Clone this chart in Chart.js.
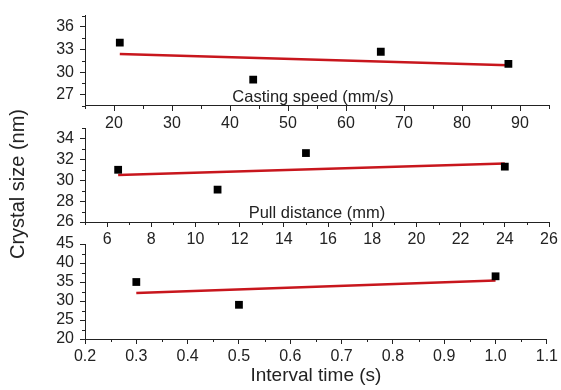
<!DOCTYPE html>
<html><head><meta charset="utf-8">
<script src="https://cdn.jsdelivr.net/npm/chart.js@4.4.0/dist/chart.umd.min.js"></script>
<style>
html,body{margin:0;padding:0;background:#fff;}
#wrap{position:relative;width:561px;height:390px;overflow:hidden;font-family:"Liberation Sans",Arial,sans-serif;color:#222;}
canvas{position:absolute;left:0;top:0;}
.lbl{position:absolute;white-space:nowrap;font-size:16.5px;transform:translate(-50%,-50%);line-height:1;}
</style></head><body>
<div id="wrap">
<canvas id="c1" width="561" height="390"></canvas>
<canvas id="c2" width="561" height="390"></canvas>
<canvas id="c3" width="561" height="390"></canvas>
<div class="lbl" style="left:313px;top:96px">Casting speed (mm/s)</div>
<div class="lbl" style="left:317px;top:212px">Pull distance (mm)</div>
<div class="lbl" style="left:17px;top:184px;transform:translate(-50%,-50%) rotate(-90deg);font-size:20px">Crystal size (nm)</div>
</div>
<script>
// Panel 1: casting speed
const speedX = [21, 44, 66, 88];
const speedY = [33.9, 29.0, 32.7, 31.1];
const speedFitX = [21, 88];
const speedFitY = [32.4, 30.9];
const speedXTicks = [20, 30, 40, 50, 60, 70, 80, 90];
const speedXMinor = [15, 25, 35, 45, 55, 65, 75, 85, 95];
const speedYTicks = [27, 30, 33, 36];
const speedYMinor = [25.5, 28.5, 31.5, 34.5, 37.5];

// Panel 2: pull distance
const pullX = [6.5, 11, 15, 24];
const pullY = [31.0, 29.1, 32.6, 31.3];
const pullFitX = [6.5, 24];
const pullFitY = [30.5, 31.6];
const pullXTicks = [6, 8, 10, 12, 14, 16, 18, 20, 22, 24, 26];
const pullXMinor = [5, 7, 9, 11, 13, 15, 17, 19, 21, 23, 25];
const pullYTicks = [26, 28, 30, 32, 34];
const pullYMinor = [27, 29, 31, 33, 35];

// Panel 3: interval time
const intX = [0.3, 0.5, 1.0];
const intY = [35.0, 29.0, 36.5];
const intFitX = [0.3, 1.0];
const intFitY = [32.1, 35.4];
const intXTicks = [0.2, 0.3, 0.4, 0.5, 0.6, 0.7, 0.8, 0.9, 1.0, 1.1];
const intXMinor = [0.25, 0.35, 0.45, 0.55, 0.65, 0.75, 0.85, 0.95, 1.05];
const intYTicks = [20, 25, 30, 35, 40, 45];
const intYMinor = [22.5, 27.5, 32.5, 37.5, 42.5];

const FONT = "'Liberation Sans', Arial, sans-serif";
const INK = '#222';
const W = 561, H = 390;
const LEFT = 85, RIGHT = 549;

function zip(xs, ys) { return xs.map((x, i) => ({x: x, y: ys[i]})); }

function minorPlugin(xMinor, yMinor) {
  return {
    id: 'minor',
    afterDraw(chart) {
      const ctx = chart.ctx, xs = chart.scales.x, ys = chart.scales.y;
      const a = chart.chartArea;
      ctx.save();
      ctx.strokeStyle = INK; ctx.lineWidth = 1;
      ctx.beginPath();
      xMinor.forEach(v => {
        const p = Math.round(xs.getPixelForValue(v)) + 0.5;
        ctx.moveTo(p, a.bottom); ctx.lineTo(p, a.bottom + 3);
      });
      yMinor.forEach(v => {
        const p = Math.round(ys.getPixelForValue(v)) + 0.5;
        ctx.moveTo(a.left, p); ctx.lineTo(a.left - 3, p);
      });
      ctx.stroke();
      ctx.restore();
    }
  };
}

function panel(id, o) {
  const xAxisH = o.xAxisH;
  return new Chart(document.getElementById(id), {
    type: 'scatter',
    data: {
      datasets: [
        {data: zip(o.px, o.py), pointStyle: 'rect', pointRadius: 5.5, pointBackgroundColor: '#000', pointBorderColor: '#000', pointBorderWidth: 0, showLine: false},
        {data: zip(o.fx, o.fy), showLine: true, borderColor: '#c8161d', borderWidth: 2.5, pointRadius: 0, fill: false}
      ]
    },
    options: {
      responsive: false, animation: false, events: [],
      plugins: {legend: {display: false}, tooltip: {enabled: false}},
      layout: {padding: {left: 0, right: W - RIGHT, top: o.top, bottom: H - o.bottom - xAxisH}},
      scales: {
        x: {
          type: 'linear', min: o.xmin, max: o.xmax,
          afterBuildTicks: s => { s.ticks = o.xt.map(v => ({value: v})); },
          afterFit: s => { s.height = xAxisH; },
          grid: {drawOnChartArea: false, drawTicks: true, tickLength: 5, color: INK, lineWidth: 1},
          border: {display: true, color: INK, width: 1},
          ticks: {color: INK, font: {family: FONT, size: 16}, padding: 3, maxRotation: 0, autoSkip: false,
                  callback: o.xfmt || (v => String(v))},
          title: o.xtitle ? {display: true, text: o.xtitle, color: INK, font: {family: FONT, size: 19}, padding: {top: 0, bottom: 3}} : {display: false}
        },
        y: {
          type: 'linear', min: o.ymin, max: o.ymax,
          afterBuildTicks: s => { s.ticks = o.yt.map(v => ({value: v})); },
          afterFit: s => { s.width = LEFT; },
          grid: {drawOnChartArea: false, drawTicks: true, tickLength: 5, color: INK, lineWidth: 1},
          border: {display: true, color: INK, width: 1},
          ticks: {color: INK, font: {family: FONT, size: 16}, padding: 6, autoSkip: false, callback: v => String(v)}
        }
      }
    },
    plugins: [minorPlugin(o.xm, o.ym)]
  });
}

panel('c1', {px: speedX, py: speedY, fx: speedFitX, fy: speedFitY,
  xmin: 15, xmax: 95, ymin: 25.5, ymax: 37.5, xt: speedXTicks, xm: speedXMinor, yt: speedYTicks, ym: speedYMinor,
  top: 15, bottom: 106, xAxisH: 30});
panel('c2', {px: pullX, py: pullY, fx: pullFitX, fy: pullFitY,
  xmin: 5, xmax: 26, ymin: 26, ymax: 35, xt: pullXTicks, xm: pullXMinor, yt: pullYTicks, ym: pullYMinor,
  top: 128, bottom: 222, xAxisH: 30});
panel('c3', {px: intX, py: intY, fx: intFitX, fy: intFitY,
  xmin: 0.2, xmax: 1.1, ymin: 20, ymax: 45, xt: intXTicks, xm: intXMinor, yt: intYTicks, ym: intYMinor,
  top: 244, bottom: 339, xAxisH: 51, xtitle: 'Interval time (s)', xfmt: v => Number(v).toFixed(1)});
</script>
</body></html>
